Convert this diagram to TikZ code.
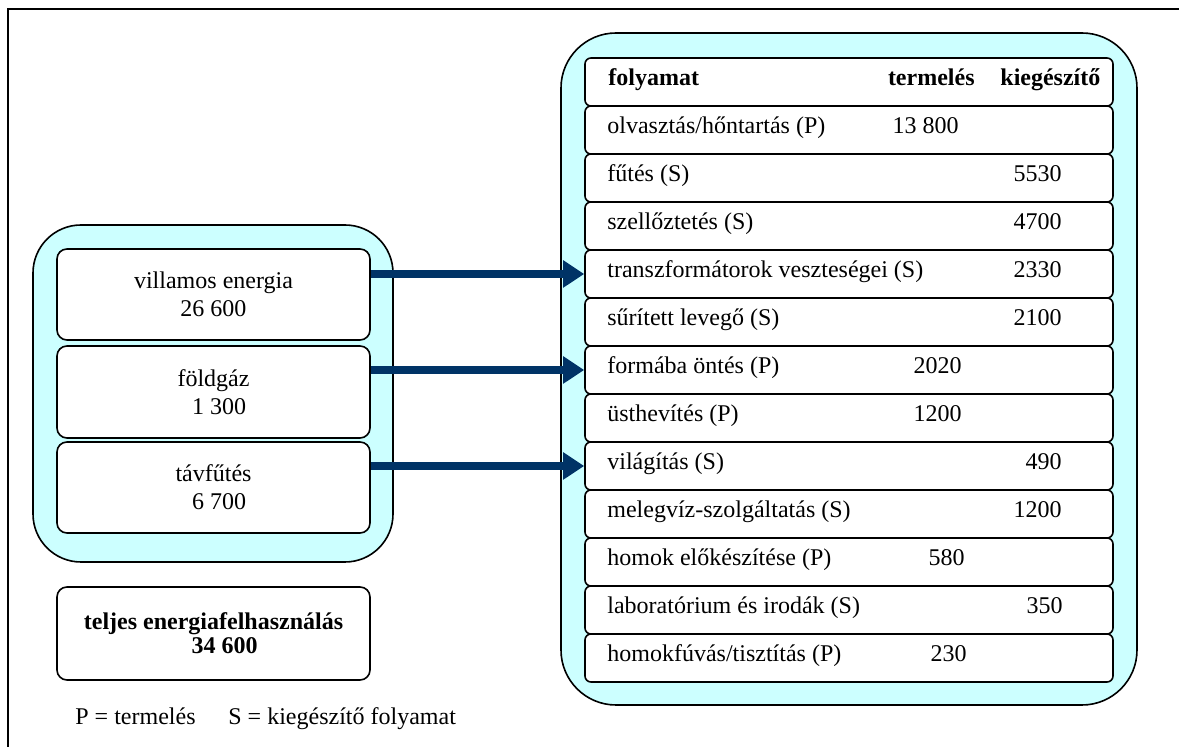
\documentclass[tikz,border=0pt]{standalone}
\usepackage{fontspec}
\setmainfont{Liberation Serif}
\usetikzlibrary{arrows.meta}
\definecolor{grpfill}{HTML}{CCFFFF}
\definecolor{navy}{RGB}{0,51,102}
\tikzset{
  txt/.style={font=\fontsize{12}{11.5}\selectfont},
  group/.style={draw=black, line width=0.8pt, fill=grpfill, rectangle, inner sep=0pt},
  srcbox/.style={draw=black, line width=0.8pt, fill=white, rectangle, rounded corners=5pt, inner sep=0pt, minimum width=156.5pt, font=\fontsize{12}{14}\selectfont, align=center},
  rowbox/.style={draw=black, line width=0.8pt, fill=white, rectangle, rounded corners=3pt, inner sep=0pt, minimum width=264pt, minimum height=24pt},
  lbl/.style={txt, anchor=base west, inner sep=0pt},
  num/.style={txt, anchor=base east, inner sep=0pt},
  flow/.style={draw=navy, line width=4pt, -{Triangle[length=10.5pt,width=13pt]}}
}
\begin{document}
\begin{tikzpicture}[x=0.5pt,y=-0.5pt]
\useasboundingbox (0,0) rectangle (1179,747);
% outer frame (left and top edges)
\coordinate (fa) at (8,747);
\coordinate (fb) at (8,9);
\coordinate (fc) at (1179,9);
\draw[line width=1pt] (fa) -- (fb) -- (fc);

% left group
\node[group, rounded corners=24pt, minimum width=180pt, minimum height=168.5pt] (L) at (213,393.5) {};
\node[srcbox, minimum height=45.5pt] (v) at (213.5,294.5) {villamos energia\\26 600};
\node[srcbox, minimum height=46pt] (f) at (213.5,392) {földgáz\\\hspace*{5.5pt}1 300};
\node[srcbox, minimum height=45.5pt] (t) at (213.5,487.5) {távfűtés\\\hspace*{5.5pt}6 700};

% total
\node[srcbox, minimum height=46.5pt, font=\fontsize{12}{12}\selectfont\bfseries] (tot) at (213.5,633.5) {teljes energiafelhasználás\\\hspace*{11pt}34 600};

% legend
\node[lbl] (leg1) at (75,725) {P = termelés};
\node[lbl] (leg2) at (228,725) {S = kiegészítő folyamat};

% right group
\node[group, rounded corners=27.5pt, minimum width=288pt, minimum height=336pt] (R) at (849,369) {};
\foreach \i in {0,...,12}{
  \node[rowbox] (r\i) at (849,{82+48*\i}) {};
}

% header
\node[lbl, font=\fontsize{12}{11.5}\selectfont\bfseries] (h1) at (608,86) {folyamat};
\node[num, font=\fontsize{12}{11.5}\selectfont\bfseries] (h2) at (975,86) {termelés};
\node[lbl, font=\fontsize{12}{11.5}\selectfont\bfseries] (h3) at (1000,86) {kiegészítő};

% rows
\node[lbl] (a1) at (607,134) {olvasztás/hőntartás (P)};
\node[num] (b1) at (959,134) {13 800};
\node[lbl] (a2) at (607,182) {fűtés (S)};
\node[num] (c2) at (1062,182) {5530};
\node[lbl] (a3) at (607,230) {szellőztetés (S)};
\node[num] (c3) at (1062,230) {4700};
\node[lbl] (a4) at (607,278) {transzformátorok veszteségei (S)};
\node[num] (c4) at (1062,278) {2330};
\node[lbl] (a5) at (607,326) {sűrített levegő (S)};
\node[num] (c5) at (1062,326) {2100};
\node[lbl] (a6) at (607,374) {formába öntés (P)};
\node[num] (b6) at (962,374) {2020};
\node[lbl] (a7) at (607,422) {üsthevítés (P)};
\node[num] (b7) at (962,422) {1200};
\node[lbl] (a8) at (607,470) {világítás (S)};
\node[num] (c8) at (1062,470) {490};
\node[lbl] (a9) at (607,518) {melegvíz-szolgáltatás (S)};
\node[num] (c9) at (1062,518) {1200};
\node[lbl] (a10) at (607,566) {homok előkészítése (P)};
\node[num] (b10) at (965,566) {580};
\node[lbl] (a11) at (607,614) {laboratórium és irodák (S)};
\node[num] (c11) at (1063,614) {350};
\node[lbl] (a12) at (607,662) {homokfúvás/tisztítás (P)};
\node[num] (b12) at (967,662) {230};

% flows
\draw[flow] (r4.west -| v.east) -- (r4.west);
\draw[flow] (r6.west -| f.east) -- (r6.west);
\draw[flow] (r8.west -| t.east) -- (r8.west);
\end{tikzpicture}
\end{document}
